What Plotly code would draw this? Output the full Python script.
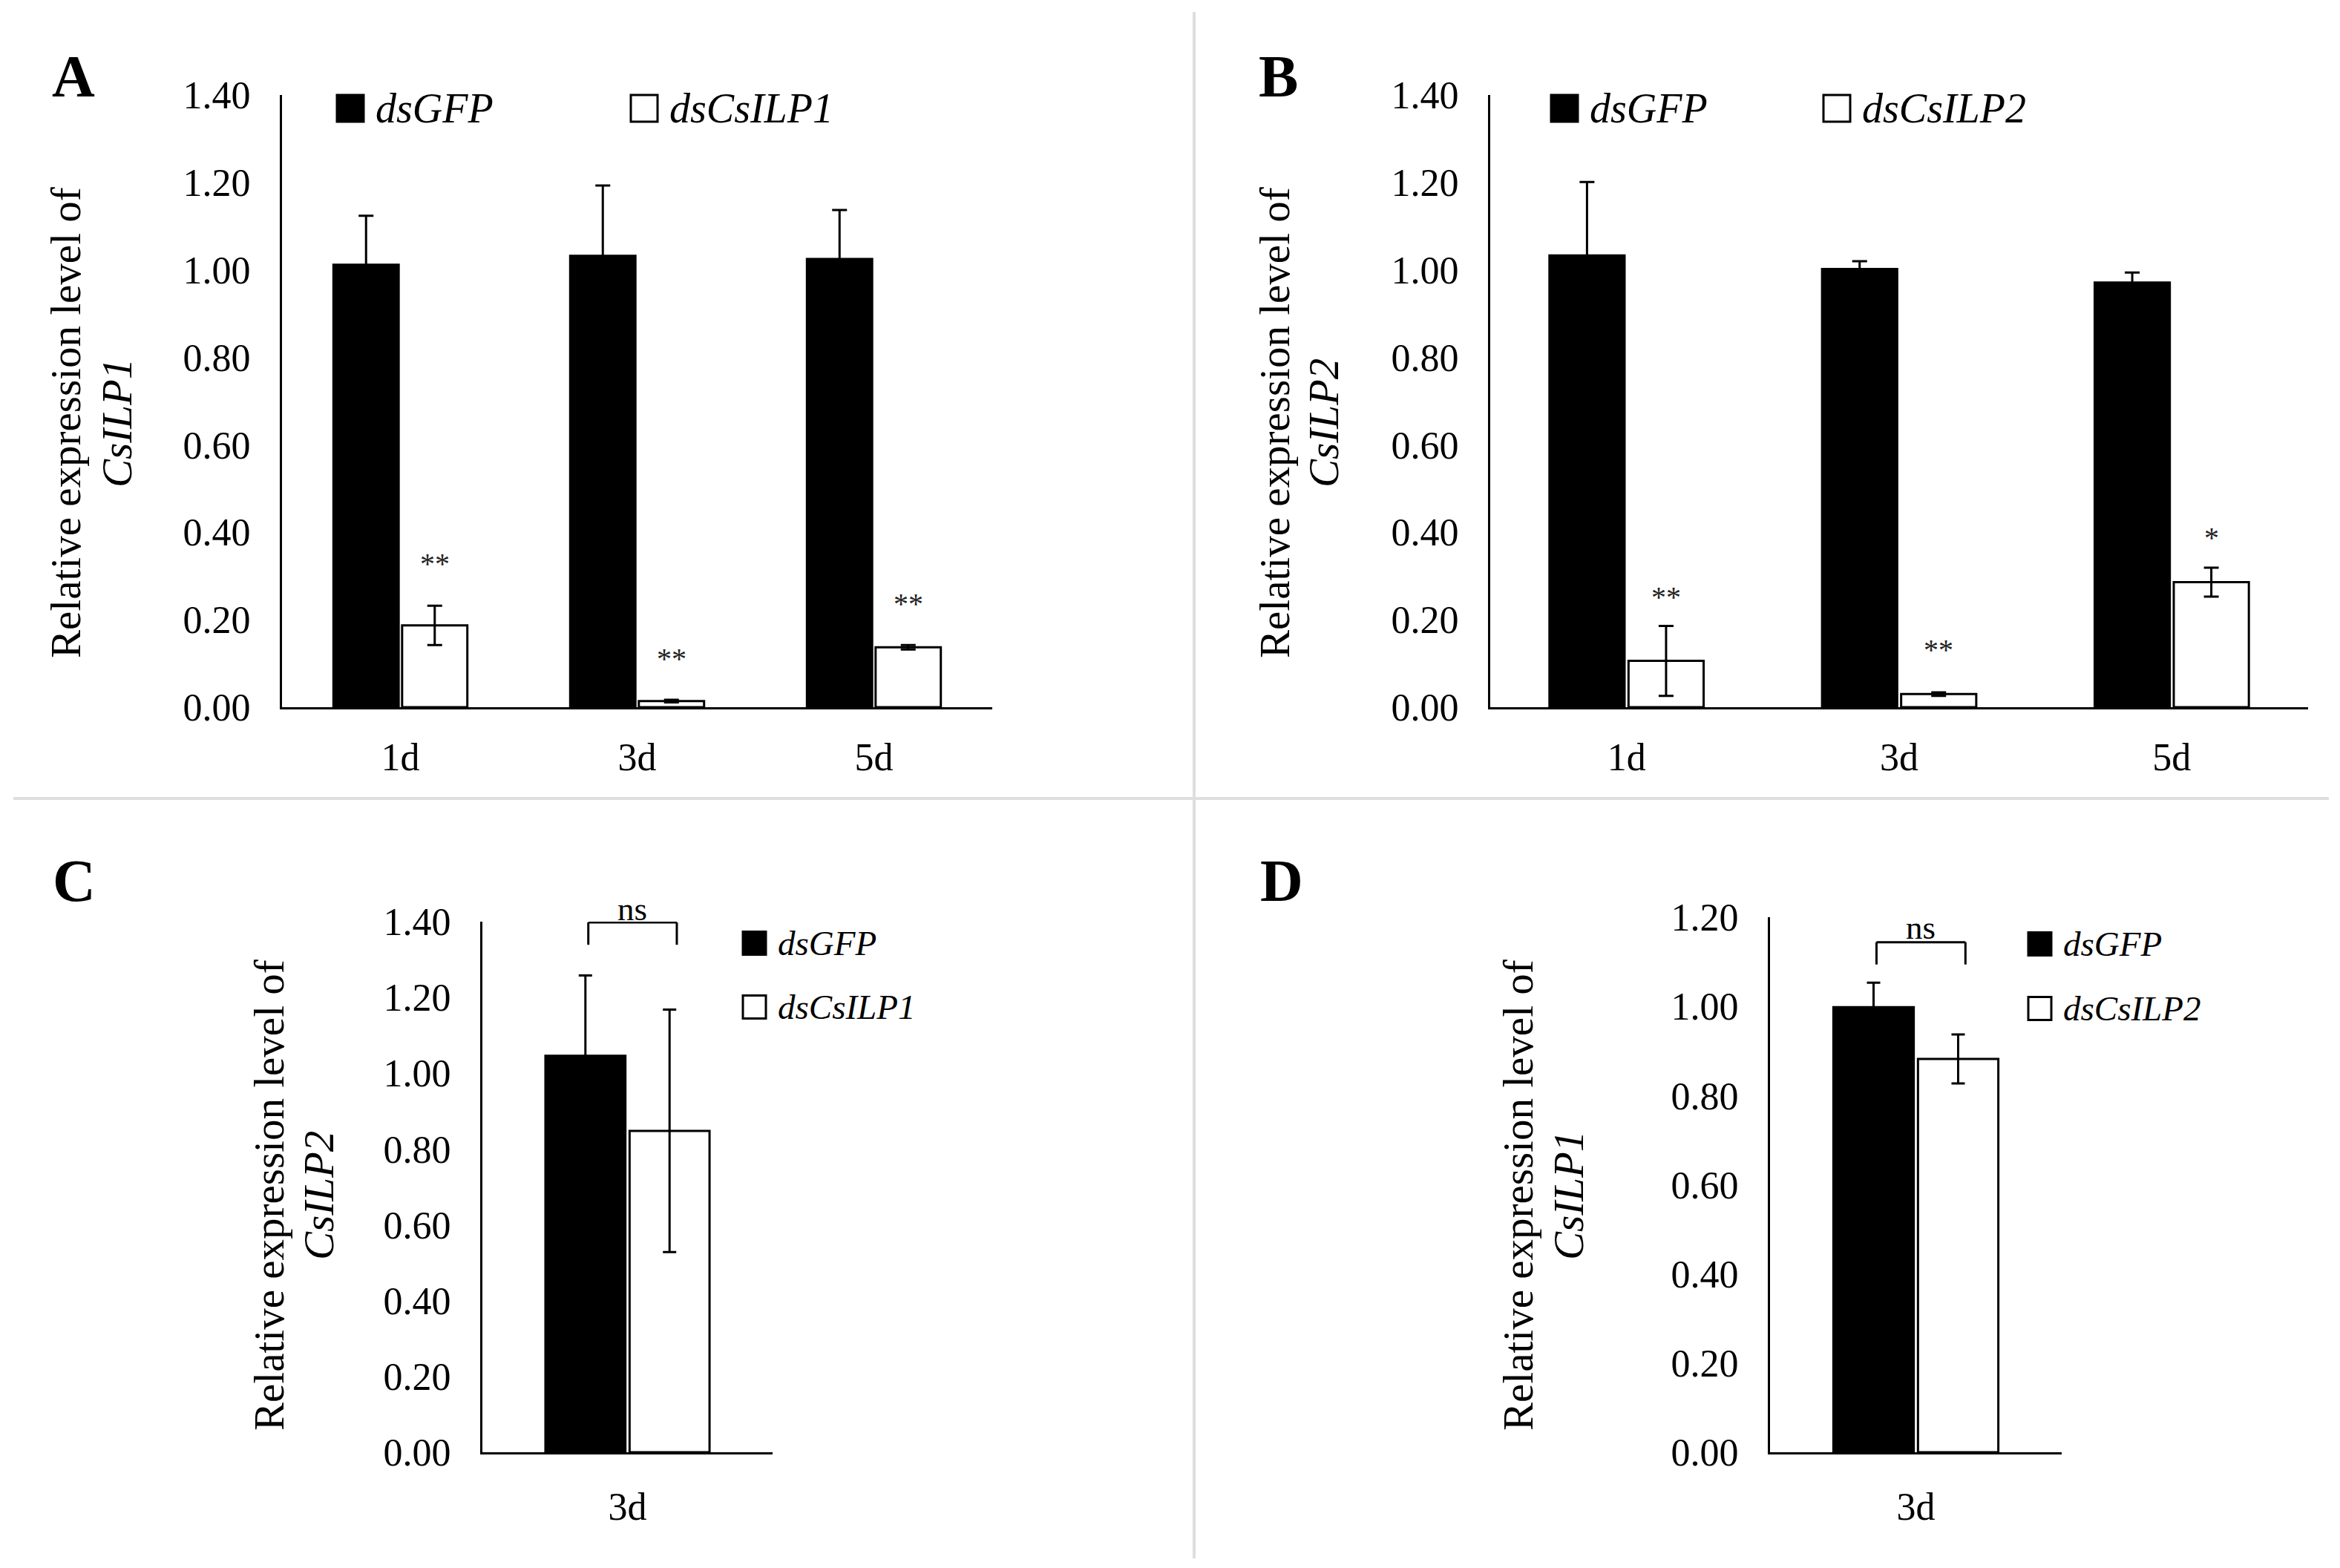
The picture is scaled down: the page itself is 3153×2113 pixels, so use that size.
import plotly.graph_objects as go

W, H = 3153, 2113
FONT = 'Liberation Serif'

# ---- data ----
days = ['1d', '3d', '5d']
day_3 = ['3d']

# A: expression of CsILP1 after dsCsILP1
a_gfp = [1.012, 1.032, 1.025]
a_gfp_err = [0.112, 0.161, 0.112]
a_ilp = [0.187, 0.014, 0.137]
a_ilp_err = [0.045, 0.003, 0.005]
a_stars = ['**', '**', '**']
a_star_y = [0.33, 0.113, 0.239]

# B: expression of CsILP2 after dsCsILP2
b_gfp = [1.033, 1.002, 0.971]
b_gfp_err = [0.168, 0.018, 0.023]
b_ilp = [0.106, 0.030, 0.286]
b_ilp_err = [0.080, 0.004, 0.033]
b_stars = ['**', '**', '*']
b_star_y = [0.254, 0.134, 0.389]

# C: expression of CsILP2 after dsCsILP1
c_gfp = [1.046]
c_gfp_err = [0.212]
c_ilp = [0.848]
c_ilp_err = [0.320]

# D: expression of CsILP1 after dsCsILP2
d_gfp = [0.998]
d_gfp_err = [0.055]
d_ilp = [0.882]
d_ilp_err = [0.055]

ticks_14 = [0, 0.2, 0.4, 0.6, 0.8, 1.0, 1.2, 1.4]
ticks_12 = [0, 0.2, 0.4, 0.6, 0.8, 1.0, 1.2]

BARGAP = 0.42
OFF = (1 - BARGAP) / 4  # centre of each bar inside its group


def px(x):
    return x / W


def py(y):
    return 1 - y / H


def bar(x, y, err, dark, name, ax, cap):
    return go.Bar(
        x=x, y=y, name=name, xaxis='x' + ax, yaxis='y' + ax,
        marker=dict(color='black' if dark else 'white',
                    line=dict(color='black', width=3)),
        error_y=dict(type='data', array=err, color='black',
                     thickness=3, width=cap),
        showlegend=False,
    )


fig = go.Figure()
fig.add_trace(bar(days, a_gfp, a_gfp_err, True, 'dsGFP', '', 10))
fig.add_trace(bar(days, a_ilp, a_ilp_err, False, 'dsCsILP1', '', 10))
fig.add_trace(bar(days, b_gfp, b_gfp_err, True, 'dsGFP', '2', 10))
fig.add_trace(bar(days, b_ilp, b_ilp_err, False, 'dsCsILP2', '2', 10))
fig.add_trace(bar(day_3, c_gfp, c_gfp_err, True, 'dsGFP', '3', 9))
fig.add_trace(bar(day_3, c_ilp, c_ilp_err, False, 'dsCsILP1', '3', 9))
fig.add_trace(bar(day_3, d_gfp, d_gfp_err, True, 'dsGFP', '4', 9))
fig.add_trace(bar(day_3, d_ilp, d_ilp_err, False, 'dsCsILP2', '4', 9))

# panel boxes in pixels: (x_left, x_right, y_bottom, y_top, x-label standoff)
boxes = {
    '': (380, 1337, 953, 128, 20),
    '2': (2008, 3110, 953, 128, 20),
    '3': (650, 1041, 1957, 1242, 26),
    '4': (2385, 2778, 1957, 1236, 26),
}
yticks = {'': ticks_14, '2': ticks_14, '3': ticks_14, '4': ticks_12}

axis_font = dict(family=FONT, size=52, color='black')
for k, (x0, x1, yb, yt, xstand) in boxes.items():
    tv = yticks[k]
    fig.update_layout({
        'xaxis' + k: dict(
            domain=[px(x0), px(x1)], anchor='y' + k, type='category',
            showline=True, linecolor='black', linewidth=3, ticks='',
            showgrid=False, zeroline=False, tickfont=axis_font,
            ticklabelstandoff=xstand,
        ),
        'yaxis' + k: dict(
            domain=[py(yb), py(yt)], anchor='x' + k,
            range=[0, tv[-1]], tickmode='array', tickvals=tv,
            ticktext=['%.2f' % v for v in tv],
            showline=True, linecolor='black', linewidth=3, ticks='',
            showgrid=False, zeroline=False, tickfont=axis_font,
            ticklabelstandoff=29,
        ),
    })

annotations = []
shapes = []

# significance stars above the knock-down bars
for ax, stars, sy in (('', a_stars, a_star_y), ('2', b_stars, b_star_y)):
    for i, (s, y) in enumerate(zip(stars, sy)):
        annotations.append(dict(
            x=i + OFF, y=y, xref='x' + ax, yref='y' + ax, text=s,
            showarrow=False, yanchor='middle', yshift=-1,
            font=dict(family=FONT, size=40, color='#222222'),
        ))

# "ns" brackets in C and D
for ax, ymax, y_top, y_leg, y_txt in (('3', 1.4, 1.398, 1.339, 1.441),
                                      ('4', 1.2, 1.144, 1.094, 1.183)):
    xl, xr = -OFF + 0.01, OFF + 0.025
    for (xa, ya, xb, yb2) in ((xl, y_leg, xl, y_top), (xl, y_top, xr, y_top),
                              (xr, y_top, xr, y_leg)):
        shapes.append(dict(type='line', xref='x' + ax, yref='y' + ax,
                           x0=xa, y0=ya, x1=xb, y1=yb2,
                           line=dict(color='black', width=3)))
    annotations.append(dict(
        x=(xl + xr) / 2, y=y_txt / ymax, xref='x' + ax,
        yref='y%s domain' % ax, text='ns',
        xanchor='center', yanchor='middle', yshift=-4,
        showarrow=False, font=dict(family=FONT, size=45, color='black'),
    ))

# y-axis titles (two lines each)
titles = [
    (88, 157, 570, 'CsILP1'),
    (1717, 1783, 570, 'CsILP2'),
    (362, 429, 1611, 'CsILP2'),
    (2045, 2113, 1611, 'CsILP1'),
]
for xa, xb, yc, gene in titles:
    annotations.append(dict(
        x=px(xa), y=py(yc), xref='paper', yref='paper',
        text='Relative expression level of', textangle=-90,
        showarrow=False, xanchor='center', yanchor='middle',
        font=dict(family=FONT, size=57, color='black'),
    ))
    annotations.append(dict(
        x=px(xb), y=py(yc), xref='paper', yref='paper',
        text='<i>%s</i>' % gene, textangle=-90,
        showarrow=False, xanchor='center', yanchor='middle',
        font=dict(family=FONT, size=57, color='black'),
    ))

# panel letters
for letter, xc, yc in (('A', 99, 103), ('B', 1722, 103),
                       ('C', 100, 1187), ('D', 1727, 1187)):
    annotations.append(dict(
        x=px(xc), y=py(yc), xref='paper', yref='paper',
        text='<b>%s</b>' % letter, showarrow=False,
        xanchor='center', yanchor='middle',
        font=dict(family=FONT, size=80, color='black'),
    ))

# hand-placed legends: (square x0, square size, y centre, label, dark, font)
legend_items = [
    (454, 36, 146, 'dsGFP', True, 56),
    (850, 36, 146, 'dsCsILP1', False, 56),
    (2090, 36, 146, 'dsGFP', True, 56),
    (2457, 36, 146, 'dsCsILP2', False, 56),
    (1001, 31, 1271, 'dsGFP', True, 47),
    (1001, 31, 1357, 'dsCsILP1', False, 47),
    (2733, 31, 1272, 'dsGFP', True, 47),
    (2733, 31, 1359, 'dsCsILP2', False, 47),
]
for sx, sz, sy, label, dark, fs in legend_items:
    shapes.append(dict(
        type='rect', xref='paper', yref='paper',
        x0=px(sx), x1=px(sx + sz), y0=py(sy + sz / 2), y1=py(sy - sz / 2),
        fillcolor='black' if dark else 'white',
        line=dict(color='black', width=3),
    ))
    annotations.append(dict(
        x=px(sx + sz + 14), y=py(sy), xref='paper', yref='paper',
        text='<i>%s</i>' % label, showarrow=False,
        xanchor='left', yanchor='middle',
        font=dict(family=FONT, size=fs, color='black'),
    ))

# light grey panel separators
shapes.append(dict(type='line', xref='paper', yref='paper',
                   x0=px(1609), x1=px(1609), y0=py(16), y1=py(2100),
                   line=dict(color='#dedede', width=4)))
shapes.append(dict(type='line', xref='paper', yref='paper',
                   x0=px(18), x1=px(3138), y0=py(1076), y1=py(1076),
                   line=dict(color='#dedede', width=4)))

fig.update_layout(
    width=W, height=H,
    margin=dict(l=0, r=0, t=0, b=0),
    template='none',
    paper_bgcolor='white', plot_bgcolor='white',
    barmode='group', bargap=BARGAP, bargroupgap=0.05,
    showlegend=False,
    font=dict(family=FONT, color='black'),
    annotations=annotations,
    shapes=shapes,
)

fig.write_html("out.html", config={'displayModeBar': False},
               post_script="document.body.style.margin='0';"
                           "document.body.style.overflow='hidden';")
